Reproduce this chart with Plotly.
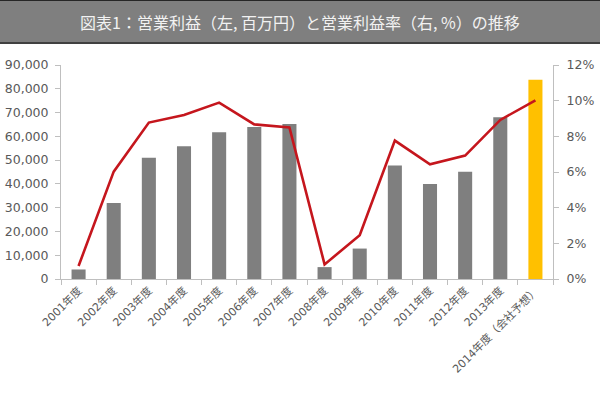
import plotly.graph_objects as go

categories = ["2001年度", "2002年度", "2003年度", "2004年度", "2005年度", "2006年度",
              "2007年度", "2008年度", "2009年度", "2010年度", "2011年度", "2012年度",
              "2013年度", "2014年度（会社予想）"]
operating_profit = [4000, 32000, 51000, 55800, 61700, 63900, 65200, 5000, 12800,
                    47700, 40000, 45100, 68000, 83800]
profit_margin = [0.0073, 0.0602, 0.0877, 0.0920, 0.0989, 0.0867, 0.0850, 0.0082,
                 0.0245, 0.0776, 0.0643, 0.0692, 0.0892, 0.1002]
bar_colors = ["#7F7F7F"] * 13 + ["#FFC000"]
title_text = "図表1：営業利益（左, 百万円）と営業利益率（右, %）の推移"

W, H = 600, 395
L, R, T, B = 61, 47, 65, 116
pw, ph = W - L - R, H - T - B


def px_x(x):
    return (x - L) / pw


def px_y(y):
    return (H - B - y) / ph


fig = go.Figure()
fig.add_trace(go.Bar(x=categories, y=operating_profit, marker=dict(color=bar_colors, line=dict(width=0)),
                     width=0.4, yaxis="y", showlegend=False))
fig.add_trace(go.Scatter(x=categories, y=profit_margin, mode="lines",
                         line=dict(color="#C5161D", width=2.6), yaxis="y2", showlegend=False))

axis_font = dict(family="DejaVu Sans, Noto Sans CJK JP", size=12.5, color="#595959")
fig.update_layout(
    width=W, height=H,
    margin=dict(l=L, r=R, t=T, b=B, autoexpand=False),
    paper_bgcolor="white", plot_bgcolor="white",
    xaxis=dict(type="category", tickson="boundaries", ticks="outside", ticklen=5,
               tickcolor="#BFBFBF", showline=True, linecolor="#BFBFBF", linewidth=1,
               showgrid=False, tickangle=-45,
               tickfont=dict(family="DejaVu Sans, Noto Sans CJK JP", size=11, color="#595959")),
    yaxis=dict(range=[0, 90000], dtick=10000, tickformat=",", ticks="outside", ticklen=5,
               tickcolor="#BFBFBF", showline=True, linecolor="#BFBFBF", linewidth=1,
               showgrid=False, zeroline=False, tickfont=axis_font, ticklabelstandoff=4),
    yaxis2=dict(range=[0, 0.12], dtick=0.02, tickformat=".0%", overlaying="y", side="right",
                ticks="outside", ticklen=5, tickcolor="#BFBFBF", showline=True,
                linecolor="#BFBFBF", linewidth=1, showgrid=False, zeroline=False,
                tickfont=axis_font, ticklabelstandoff=5),
    shapes=[
        dict(type="rect", xref="paper", yref="paper", x0=px_x(0), x1=px_x(600),
             y0=px_y(43), y1=px_y(0), fillcolor="#7F7F7F", line=dict(width=0), layer="below"),
        dict(type="line", xref="paper", yref="paper", x0=px_x(0), x1=px_x(600),
             y0=px_y(43), y1=px_y(43), line=dict(color="#404040", width=2)),
        dict(type="line", xref="paper", yref="paper", x0=px_x(0), x1=px_x(600),
             y0=px_y(0.5), y1=px_y(0.5), line=dict(color="#262626", width=1)),
    ],
    annotations=[
        dict(text=title_text, xref="paper", yref="paper", x=px_x(300), y=px_y(22),
             xanchor="center", yanchor="middle", showarrow=False,
             font=dict(family="Noto Sans CJK JP", size=16, color="#F2F2F2")),
    ],
    bargap=0.6,
)

fig.write_html("out.html", config={"displayModeBar": False},
               post_script="document.body.style.margin='0';document.body.style.overflow='hidden';")
